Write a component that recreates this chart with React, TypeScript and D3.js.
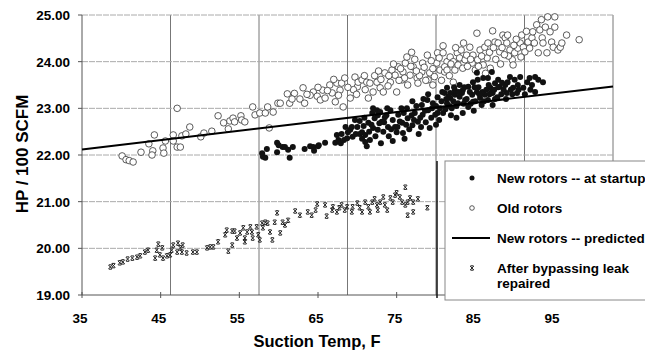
import * as React from 'react';
import * as d3 from 'd3';

// [suction temp F, HP/100 SCFM]
const oldRotors: [number, number][] = [
  [40.1, 21.98], [40.6, 21.9], [41.0, 21.88], [41.5, 21.85], [42.5, 22.06], [43.5, 22.24], [44.0, 22.09], [43.9, 22.0],
  [44.2, 22.43], [45.3, 22.15], [45.6, 22.3], [45.4, 22.04], [46.6, 22.43], [46.6, 22.3], [47.1, 22.17], [47.5, 22.17],
  [47.7, 22.41], [48.2, 22.45], [48.7, 22.6], [47.1, 23.0], [50.1, 22.39], [50.5, 22.47], [51.5, 22.51], [52.3, 22.84],
  [53.0, 22.69], [53.6, 22.56], [53.8, 22.73], [54.2, 22.79], [54.4, 22.71], [55.2, 22.84], [55.3, 22.75], [55.7, 22.71],
  [56.7, 23.03], [57.0, 22.86], [57.6, 22.9], [58.3, 22.9], [58.6, 23.03], [58.8, 22.58], [59.3, 22.92], [59.9, 23.11],
  [60.2, 23.11], [61.1, 23.31], [61.4, 23.11], [62.7, 23.2], [63.1, 23.44], [63.3, 23.11], [64.4, 23.35], [64.9, 23.26],
  [65.3, 23.18], [65.6, 23.39], [65.9, 23.22], [66.5, 23.5], [66.8, 23.33], [67.2, 23.14], [67.4, 23.54], [67.8, 23.39],
  [68.0, 23.54], [68.2, 23.03], [68.4, 23.65], [69.1, 23.22], [69.7, 23.67], [70.0, 23.46], [70.1, 23.56], [70.6, 23.61],
  [71.2, 23.56], [71.4, 23.22], [71.6, 23.54], [72.0, 23.35], [72.5, 23.56], [72.9, 23.44], [73.5, 23.76], [73.3, 23.35],
  [74.2, 23.56], [74.4, 23.82], [74.8, 23.71], [75.0, 23.35], [75.2, 23.89], [75.7, 23.61], [75.8, 23.78], [76.1, 23.97],
  [76.3, 24.1], [76.4, 23.5], [76.7, 23.71], [77.1, 23.89], [77.6, 23.65], [77.7, 23.54], [78.2, 23.78], [78.3, 23.97],
  [78.9, 24.14], [79.0, 23.61], [79.2, 23.76], [79.6, 23.5], [80.1, 23.97], [80.2, 24.19], [80.5, 23.82], [80.9, 24.34],
  [81.1, 23.78], [81.4, 24.0], [80.9, 24.19], [81.1, 23.89], [81.4, 23.82], [81.8, 24.1], [82.2, 24.0], [82.4, 23.82],
  [82.7, 24.19], [82.8, 23.93], [83.0, 24.08], [83.4, 23.86], [83.7, 24.04], [83.9, 24.14], [84.3, 24.31], [84.6, 23.97],
  [84.7, 24.14], [85.0, 23.82], [85.2, 24.61], [85.3, 24.04], [85.6, 24.25], [86.0, 23.93], [86.2, 24.31], [86.5, 24.08],
  [86.6, 24.4], [86.9, 23.86], [87.2, 24.66], [87.5, 24.42], [87.9, 24.4], [88.1, 24.21], [88.5, 24.57], [88.8, 24.51],
  [89.0, 24.4], [89.1, 24.57], [89.4, 24.25], [89.7, 24.04], [89.8, 23.93], [90.0, 24.19], [90.4, 24.29], [90.7, 24.4],
  [90.9, 24.57], [91.1, 24.31], [91.3, 24.21], [91.7, 24.42], [91.9, 24.29], [92.2, 24.51], [92.3, 24.64], [92.8, 24.79],
  [93.0, 24.19], [93.2, 24.68], [93.5, 24.51], [93.6, 24.4], [93.9, 24.74], [94.1, 24.19], [94.2, 24.96], [94.5, 24.64],
  [94.7, 24.42], [94.9, 24.31], [95.1, 24.96], [95.1, 24.74], [95.5, 24.25], [95.8, 24.31], [96.0, 24.4], [96.6, 24.57],
  [98.2, 24.47], [82.2, 23.56], [76.0, 23.65], [76.8, 23.9], [77.3, 24.05], [77.9, 23.7], [78.5, 23.88], [79.4, 24.02],
  [79.8, 23.68], [80.4, 24.08], [75.5, 23.85], [74.0, 23.7], [73.0, 23.62], [72.2, 23.7], [71.0, 23.4], [69.5, 23.4],
  [68.8, 23.45], [67.0, 23.62], [65.0, 23.45], [64.0, 23.28], [62.0, 23.32], [81.7, 23.7], [83.2, 24.25], [84.0, 23.9],
  [85.8, 24.12], [86.8, 24.2], [87.6, 24.05], [88.4, 24.3], [89.2, 24.12], [90.2, 24.48],
  [61.7, 23.2], [63.6, 23.3], [66.2, 23.38], [67.6, 23.28], [69.9, 23.3], [70.9, 23.7], [72.7, 23.8], [73.9, 23.48],
  [74.6, 23.95], [75.3, 23.6], [76.9, 24.2], [77.5, 23.8], [78.7, 23.6], [79.6, 23.85], [80.7, 23.6], [81.9, 23.95],
  [82.5, 24.3], [83.5, 24.4], [84.4, 24.05], [85.4, 23.9], [86.3, 23.75], [87.3, 24.3], [88.7, 24.15], [89.9, 24.35],
  [90.8, 24.1], [92.5, 24.4], [93.4, 24.9], [91.5, 24.65], [88.2, 23.95],
];

const newStartup: [number, number][] = [
  [57.9, 22.04], [58.0, 21.96], [58.3, 21.94], [58.5, 22.13], [59.8, 22.06], [59.8, 22.26], [60.0, 22.21], [60.5, 22.17],
  [60.8, 22.17], [61.2, 22.11], [61.4, 21.94], [61.8, 22.17], [63.3, 22.13], [64.0, 22.19], [64.4, 22.17], [64.5, 22.09],
  [65.0, 22.19], [65.1, 22.21], [65.9, 22.26], [67.2, 22.26], [67.4, 22.43], [67.6, 22.32], [68.0, 22.45], [68.3, 22.32],
  [68.7, 22.36], [68.8, 22.49], [69.1, 22.54], [69.3, 22.6], [69.4, 22.39], [69.7, 22.75], [70.3, 22.73], [70.3, 22.45],
  [70.6, 22.49], [71.0, 22.43], [71.0, 22.28], [71.2, 22.19], [71.4, 22.69], [71.6, 22.32], [71.9, 22.9], [72.0, 22.58],
  [72.2, 22.79], [72.5, 22.96], [72.6, 22.54], [72.9, 22.92], [73.1, 22.71], [73.5, 22.81], [73.9, 22.6], [74.2, 22.96],
  [74.5, 22.75], [75.0, 22.49], [75.2, 22.86], [75.7, 22.69], [75.8, 22.47], [76.3, 23.0], [76.4, 22.79], [77.0, 22.64],
  [77.3, 22.9], [77.7, 22.71], [78.2, 23.07], [78.3, 22.86], [78.9, 23.18], [79.0, 22.96], [79.2, 22.58], [79.6, 23.11],
  [79.9, 22.86], [80.2, 23.24], [80.5, 23.0], [80.9, 22.9], [81.1, 23.33], [81.4, 23.11], [81.8, 23.22], [82.0, 23.0],
  [82.4, 23.29], [82.8, 23.11], [83.3, 23.33], [83.4, 22.9], [83.7, 23.18], [84.1, 23.03], [84.6, 23.29], [84.7, 23.14],
  [85.2, 23.35], [85.6, 23.22], [85.8, 23.07], [86.2, 23.29], [86.6, 23.18], [87.1, 23.35], [87.2, 23.07], [87.8, 23.24],
  [85.2, 23.76], [85.3, 23.61], [86.0, 23.65], [86.6, 23.65], [87.1, 23.78], [87.5, 23.54], [87.9, 23.61], [88.1, 23.46],
  [88.8, 23.5], [89.1, 23.56], [89.4, 23.67], [89.8, 23.44], [90.0, 23.61], [90.4, 23.5], [90.7, 23.67], [91.1, 23.44],
  [91.6, 23.56], [91.9, 23.65], [92.2, 23.5], [92.6, 23.67], [93.0, 23.61], [93.6, 23.56], [84.7, 23.56], [84.1, 23.46],
  [83.4, 23.39], [83.0, 23.5], [82.4, 23.39], [81.8, 23.33], [81.4, 23.44], [87.2, 23.33], [89.0, 23.33], [90.3, 23.33],
  [86.9, 23.44], [70.0, 22.6], [70.8, 22.62], [71.5, 22.5], [72.3, 22.4], [72.8, 22.68], [73.3, 22.5], [73.7, 22.85],
  [74.0, 22.4], [74.8, 22.6], [75.4, 22.72], [75.9, 22.9], [76.6, 22.55], [76.9, 22.85], [77.5, 23.05], [78.0, 22.8],
  [78.6, 22.95], [78.7, 22.7], [79.4, 22.8], [80.0, 23.05], [80.7, 23.15], [81.2, 22.98], [81.6, 23.25], [82.2, 23.15],
  [82.6, 23.05], [83.0, 23.25], [83.9, 23.2], [84.3, 23.35], [85.0, 23.15], [85.4, 23.45], [85.9, 23.35], [86.4, 23.4],
  [86.8, 23.3], [87.5, 23.2], [88.3, 23.3], [88.6, 23.4], [89.5, 23.4], [76.0, 22.35], [77.8, 22.45], [74.5, 22.3],
  [73.0, 22.25], [80.4, 22.75], [81.9, 22.85],
  [79.0, 23.3], [79.5, 23.0], [80.2, 22.9], [80.8, 23.35], [81.3, 23.2], [81.7, 23.05], [82.3, 23.45], [82.9, 23.35],
  [83.5, 23.1], [83.6, 23.45], [84.4, 23.1], [84.9, 23.45], [85.5, 23.3], [86.1, 23.15], [86.7, 23.5], [87.4, 23.4],
  [87.9, 23.45], [88.4, 23.55], [88.9, 23.2], [89.7, 23.3], [90.5, 23.4], [91.3, 23.3], [92.0, 23.4], [92.6, 23.35],
  [78.4, 23.2], [77.2, 22.75], [76.2, 22.65], [75.1, 22.6], [74.3, 22.55], [73.4, 22.7], [72.6, 22.85], [71.8, 22.65],
  [70.6, 22.35], [69.8, 22.45], [68.5, 22.6], [67.9, 22.25], [73.8, 23.0], [75.6, 23.0], [77.0, 23.15], [80.0, 22.65],
  [78.1, 22.6], [82.6, 22.8], [84.8, 22.95], [70.9, 22.8], [72.0, 23.0],
];

const afterRepair: [number, number][] = [
  [38.6, 19.6], [39.0, 19.63], [39.8, 19.69], [40.2, 19.71], [40.8, 19.77], [41.4, 19.79], [42.0, 19.81], [42.4, 19.84],
  [43.0, 19.92], [43.4, 19.96], [44.3, 19.79], [44.5, 19.96], [44.7, 20.09], [44.9, 19.86], [45.2, 20.01], [45.3, 19.79],
  [45.8, 19.84], [46.2, 19.86], [46.4, 19.96], [46.6, 20.07], [47.1, 19.92], [47.2, 20.11], [47.5, 20.01], [47.7, 19.92],
  [47.8, 20.07], [48.3, 19.9], [49.1, 19.92], [49.6, 19.92], [50.9, 20.01], [51.3, 20.03], [51.7, 20.03], [52.3, 20.14],
  [53.6, 19.94], [54.1, 20.07], [53.2, 20.29], [53.4, 20.39], [54.1, 20.37], [54.4, 20.37], [54.7, 20.22], [55.1, 20.33],
  [55.5, 20.44], [55.7, 20.22], [55.7, 20.14], [56.0, 20.35], [56.4, 20.46], [56.6, 20.35], [56.7, 20.22], [57.2, 20.46],
  [57.4, 20.29], [57.6, 20.18], [57.9, 20.54], [58.0, 20.44], [58.3, 20.56], [58.6, 20.54], [58.9, 20.35], [59.2, 20.18],
  [59.5, 20.56], [59.8, 20.76], [60.2, 20.33], [60.5, 20.56], [60.8, 20.5], [61.2, 20.6], [62.1, 20.8], [62.7, 20.71],
  [63.7, 20.78], [64.2, 20.71], [64.7, 20.82], [64.9, 20.95], [65.9, 20.93], [66.1, 20.69], [66.8, 20.82], [66.9, 20.89],
  [67.4, 20.78], [67.7, 20.87], [68.0, 20.93], [68.4, 20.82], [68.7, 20.89], [69.3, 20.78], [69.4, 20.89], [70.0, 20.97],
  [70.3, 20.87], [70.6, 20.78], [71.0, 20.99], [71.4, 20.89], [71.6, 20.78], [71.9, 20.99], [72.2, 21.06], [72.5, 20.93],
  [72.6, 20.82], [72.9, 20.99], [73.3, 21.1], [73.5, 20.93], [73.8, 20.82], [74.2, 21.08], [74.5, 20.99], [74.8, 21.14],
  [75.0, 21.19], [75.4, 21.1], [75.7, 20.99], [76.1, 21.31], [76.1, 20.93], [76.4, 20.99], [76.7, 21.08], [77.1, 20.99],
  [77.7, 21.06], [76.4, 20.71], [77.1, 20.78], [78.9, 20.87],
];

// predicted line end points
const predictedX = [35, 102.5];
const predictedY = [22.12, 23.47];

const xTicks = [35, 45, 55, 65, 75, 85, 95];
const yTicks = [19, 20, 21, 22, 23, 24, 25];
const legendLabels = ['New rotors -- at startup', 'Old rotors', 'New rotors -- predicted', 'After bypassing leak', 'repaired'];

const FONT = '"Liberation Sans", Arial, sans-serif';

export default function App() {
  const ref = React.useRef<SVGSVGElement>(null);

  React.useEffect(() => {
    const svg = d3.select(ref.current);
    svg.selectAll('*').remove();

    const x = d3.scaleLinear().domain([35, 102.5]).range([82, 613]);
    const y = d3.scaleLinear().domain([19, 25]).range([295, 15]);

    // gridlines: vertical ones sit every 11.25 units (as in the source), not at the tick labels
    const vGrid = d3.range(1, 7).map(k => 35 + k * 11.25);
    svg.append('g').selectAll('line').data(vGrid).enter().append('line')
      .attr('x1', d => x(d)).attr('x2', d => x(d))
      .attr('y1', y(25)).attr('y2', y(19))
      .attr('stroke', '#777').attr('stroke-width', 1);
    svg.append('g').selectAll('line').data(yTicks.slice(1)).enter().append('line')
      .attr('x1', x(35)).attr('x2', x(102.5))
      .attr('y1', d => y(d)).attr('y2', d => y(d))
      .attr('stroke', '#aaa').attr('stroke-width', 1).attr('stroke-dasharray', '6,1');

    // axes
    svg.append('line').attr('x1', x(35)).attr('x2', x(35)).attr('y1', y(25)).attr('y2', y(19))
      .attr('stroke', '#555');
    svg.append('line').attr('x1', x(35)).attr('x2', x(102.5)).attr('y1', y(19)).attr('y2', y(19))
      .attr('stroke', '#555');
    svg.append('g').selectAll('line').data(yTicks).enter().append('line')
      .attr('x1', x(35) - 4).attr('x2', x(35)).attr('y1', d => y(d)).attr('y2', d => y(d))
      .attr('stroke', '#555');
    svg.append('g').selectAll('line').data(xTicks).enter().append('line')
      .attr('x1', d => x(d)).attr('x2', d => x(d)).attr('y1', y(19) - 3).attr('y2', y(19) + 3)
      .attr('stroke', '#555');

    svg.append('g').selectAll('text').data(yTicks).enter().append('text')
      .attr('x', 70).attr('y', d => y(d)).attr('dy', '0.36em')
      .attr('text-anchor', 'end').attr('font-family', FONT).attr('font-weight', 'bold').attr('font-size', 13.5)
      .text(d => d.toFixed(2));
    svg.append('g').selectAll('text').data(xTicks).enter().append('text')
      .attr('x', d => x(d) - 2).attr('y', 323)
      .attr('text-anchor', 'middle').attr('font-family', FONT).attr('font-weight', 'bold').attr('font-size', 13.5)
      .text(d => d);

    svg.append('text').attr('transform', 'translate(28,154) rotate(-90)')
      .attr('text-anchor', 'middle').attr('font-family', FONT).attr('font-weight', 'bold').attr('font-size', 17)
      .text('HP / 100 SCFM');
    svg.append('text').attr('x', 317).attr('y', 347)
      .attr('text-anchor', 'middle').attr('font-family', FONT).attr('font-weight', 'bold').attr('font-size', 16.5)
      .text('Suction Temp, F');

    // old rotors: open circles
    svg.append('g').selectAll('circle').data(oldRotors).enter().append('circle')
      .attr('cx', d => x(d[0])).attr('cy', d => y(d[1])).attr('r', 3.3)
      .attr('fill', 'white').attr('stroke', '#333').attr('stroke-width', 0.8);

    // new rotors at startup: filled dots
    svg.append('g').selectAll('circle').data(newStartup).enter().append('circle')
      .attr('cx', d => x(d[0])).attr('cy', d => y(d[1])).attr('r', 3)
      .attr('fill', '#111');

    // after repair: small serif x marks
    const xMark = (cx: number, cy: number) =>
      `M${cx - 1.8},${cy - 2}L${cx + 1.8},${cy + 2}M${cx + 1.8},${cy - 2}L${cx - 1.8},${cy + 2}` +
      `M${cx - 1.5},${cy - 2.2}H${cx + 1.5}M${cx - 1.5},${cy + 2.2}H${cx + 1.5}`;
    svg.append('g').selectAll('path').data(afterRepair).enter().append('path')
      .attr('d', d => xMark(x(d[0]), y(d[1])))
      .attr('fill', 'none').attr('stroke', '#222').attr('stroke-width', 1);

    // predicted line
    const line = d3.line<number>().x(d => x(predictedX[d])).y(d => y(predictedY[d]));
    svg.append('path').attr('d', line([0, 1])).attr('fill', 'none').attr('stroke', '#000').attr('stroke-width', 2);

    // legend
    const lg = svg.append('g');
    lg.append('line').attr('x1', 437).attr('x2', 437).attr('y1', 161).attr('y2', 298)
      .attr('stroke', '#111').attr('stroke-width', 1.5);
    lg.append('rect').attr('x', 445).attr('y', 161).attr('width', 220).attr('height', 139)
      .attr('fill', 'white').attr('stroke', '#888');
    const rows = [178, 208, 238, 268, 283];
    lg.selectAll('text').data(legendLabels).enter().append('text')
      .attr('x', 497).attr('y', (d, i) => rows[i]).attr('dy', '0.36em')
      .attr('font-family', FONT).attr('font-weight', 'bold').attr('font-size', 13.5)
      .text(d => d);
    lg.append('circle').attr('cx', 472).attr('cy', rows[0]).attr('r', 2.5).attr('fill', '#111');
    lg.append('circle').attr('cx', 472).attr('cy', rows[1]).attr('r', 2.3)
      .attr('fill', 'white').attr('stroke', '#333').attr('stroke-width', 0.8);
    lg.append('line').attr('x1', 452).attr('x2', 490).attr('y1', rows[2]).attr('y2', rows[2])
      .attr('stroke', '#000').attr('stroke-width', 2);
    lg.append('path').attr('d', xMark(472, rows[3])).attr('fill', 'none').attr('stroke', '#222').attr('stroke-width', 1);
  }, []);

  return (
    <svg ref={ref} width={645} height={352}
      style={{position: 'absolute', left: 0, top: 0, background: 'white'}} />
  );
}
